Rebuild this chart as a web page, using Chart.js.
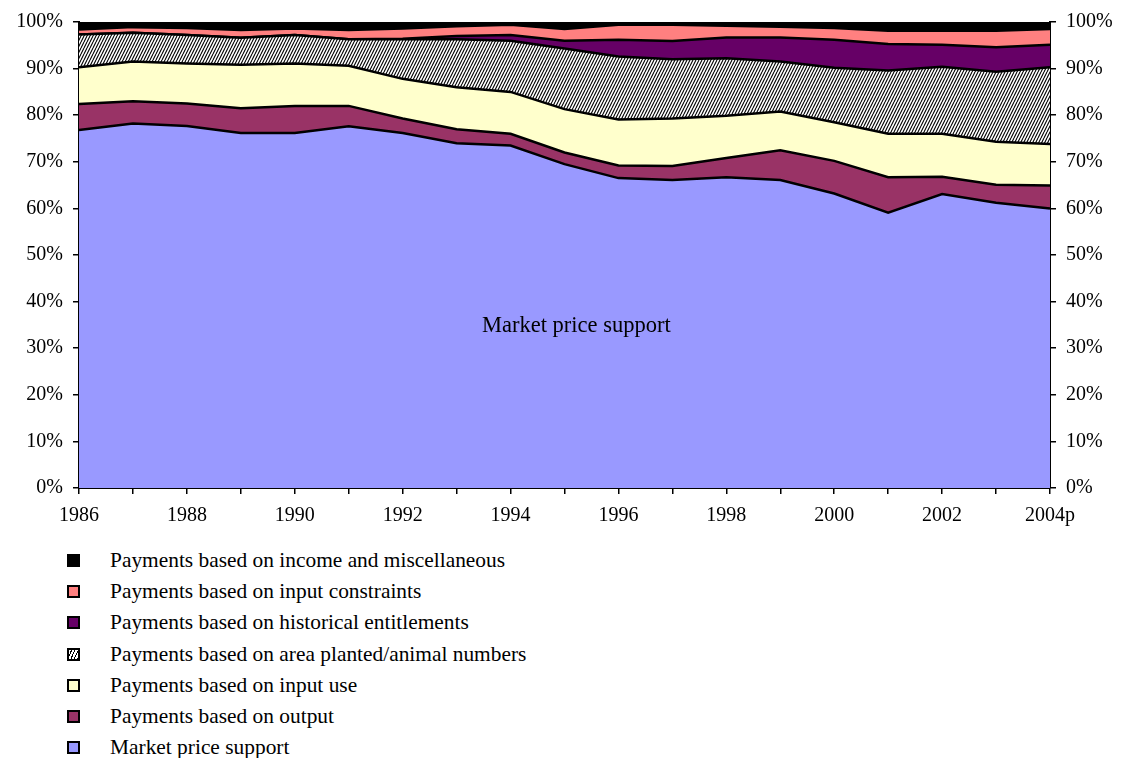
<!DOCTYPE html>
<html>
<head>
<meta charset="utf-8">
<script src="https://cdn.jsdelivr.net/npm/chart.js@4/dist/chart.umd.min.js"></script>
<style>
  body { margin: 0; background: #fff; font-family: "Liberation Serif", "Times New Roman", serif; overflow: hidden; }
  #wrap { position: absolute; left: 0; top: 0; width: 1121px; height: 530px; }
  #mpsLabel { position: absolute; left: 482px; top: 312px; font-size: 22.5px; white-space: nowrap; }
  #legend { position: absolute; left: 67px; top: 545px; font-size: 21.4px; }
  .row { height: 31.2px; display: flex; align-items: center; }
  .box { width: 9px; height: 9px; border: 2px solid #000; margin-right: 30px; }
</style>
</head>
<body>
<div id="wrap"><canvas id="chart"></canvas></div>
<div id="mpsLabel">Market price support</div>
<div id="legend"></div>

<script>
// years on the x axis
const years = ['1986','1987','1988','1989','1990','1991','1992','1993','1994','1995',
               '1996','1997','1998','1999','2000','2001','2002','2003','2004p'];

// share of total support, %
const marketPrice   = [76.8, 78.2, 77.7, 76.2, 76.2, 77.6, 76.2, 74.0, 73.5, 69.5, 66.5, 66.1, 66.7, 66.1, 63.2, 59.1, 63.1, 61.2, 60.0];
const output        = [5.6, 4.8, 4.8, 5.3, 5.8, 4.4, 3.1, 3.0, 2.5, 2.5, 2.7, 3.0, 4.1, 6.4, 7.0, 7.6, 3.7, 3.9, 4.9];
const inputUse      = [7.9, 8.5, 8.6, 9.3, 9.1, 8.6, 8.5, 9.0, 9.0, 9.3, 9.9, 10.2, 9.1, 8.3, 8.3, 9.3, 9.2, 9.2, 8.9];
const areaAnimal    = [7.0, 6.2, 6.1, 5.8, 6.1, 5.7, 8.5, 10.3, 11.0, 13.0, 13.5, 12.7, 12.3, 10.7, 11.7, 13.6, 14.4, 15.0, 16.5];
const historical    = [0, 0, 0, 0, 0, 0, 0.1, 0.7, 1.2, 1.7, 3.6, 3.9, 4.5, 5.2, 6.0, 5.7, 4.7, 5.3, 4.8];
const inputConstr   = [1.1, 1.2, 1.5, 1.7, 1.4, 2.0, 2.2, 2.1, 2.2, 2.5, 3.2, 3.5, 2.5, 2.3, 2.5, 2.8, 3.0, 3.5, 3.4];
const incomeMisc    = [1.6, 1.1, 1.3, 1.7, 1.4, 1.7, 1.4, 0.9, 0.6, 1.4, 0.6, 0.6, 0.9, 1.1, 1.3, 1.9, 1.9, 1.9, 1.5];

// steep hatch for the area/animal numbers band
function makeHatch() {
  const c = document.createElement('canvas');
  c.width = 3; c.height = 6;
  const g = c.getContext('2d');
  g.fillStyle = '#fff';
  g.fillRect(0, 0, 3, 6);
  g.strokeStyle = '#000';
  g.lineWidth = 1.1;
  g.beginPath();
  [-3, 0, 3].forEach(dx => { g.moveTo(dx, 6); g.lineTo(dx + 3, 0); });
  g.stroke();
  return g.createPattern(c, 'repeat');
}
const hatch = makeHatch();

const series = [
  { label: 'Market price support', data: marketPrice, color: '#9999FF' },
  { label: 'Payments based on output', data: output, color: '#993366' },
  { label: 'Payments based on input use', data: inputUse, color: '#FFFFCC' },
  { label: 'Payments based on area planted/animal numbers', data: areaAnimal, color: hatch, css: 'repeating-linear-gradient(-65deg, #000 0 1px, #fff 1px 3px)' },
  { label: 'Payments based on historical entitlements', data: historical, color: '#660066' },
  { label: 'Payments based on input constraints', data: inputConstr, color: '#FF8080' },
  { label: 'Payments based on income and miscellaneous', data: incomeMisc, color: '#000000' }
];

const datasets = series.map((s, i) => ({
  label: s.label,
  data: s.data,
  backgroundColor: s.color,
  borderColor: '#000',
  borderWidth: 2.5,
  pointRadius: 0,
  tension: 0,
  fill: i === 0 ? 'origin' : '-1'
}));

const tickFont = { family: 'Liberation Serif', size: 20 };

new Chart(document.getElementById('chart'), {
  type: 'line',
  data: { labels: years, datasets: datasets },
  options: {
    responsive: true,
    maintainAspectRatio: false,
    animation: false,
    layout: { padding: { top: 22, left: 0, right: 0, bottom: 0 } },
    plugins: { legend: { display: false }, tooltip: { enabled: false } },
    scales: {
      x: {
        offset: false,
        grid: { drawOnChartArea: false, tickLength: 6, color: '#000', lineWidth: 1.5 },
        border: { color: '#000', width: 2 },
        ticks: {
          color: '#000', font: tickFont, padding: 10, maxRotation: 0, autoSkip: false,
          callback: function (v, i) { return i % 2 === 0 ? this.getLabelForValue(v) : ''; }
        },
        afterFit: s => { s.height = 42; }
      },
      y: {
        stacked: true, min: 0, max: 100,
        grid: { drawOnChartArea: false, tickLength: 6, color: '#000', lineWidth: 1.5 },
        border: { color: '#000', width: 2 },
        ticks: { stepSize: 10, color: '#000', font: tickFont, padding: 10, callback: v => v + '%' },
        afterFit: s => { s.width = 79; }
      },
      y2: {
        position: 'right', min: 0, max: 100,
        grid: { drawOnChartArea: false, tickLength: 6, color: '#000', lineWidth: 1.5 },
        border: { color: '#000', width: 2 },
        ticks: { stepSize: 10, color: '#000', font: tickFont, padding: 10, callback: v => v + '%' },
        afterFit: s => { s.width = 71; }
      }
    }
  }
});

// legend, top entry first
const legend = document.getElementById('legend');
series.slice().reverse().forEach(s => {
  const row = document.createElement('div');
  row.className = 'row';
  const box = document.createElement('div');
  box.className = 'box';
  box.style.background = s.css || s.color;
  row.appendChild(box);
  row.appendChild(document.createTextNode(s.label));
  legend.appendChild(row);
});
</script>
</body>
</html>
